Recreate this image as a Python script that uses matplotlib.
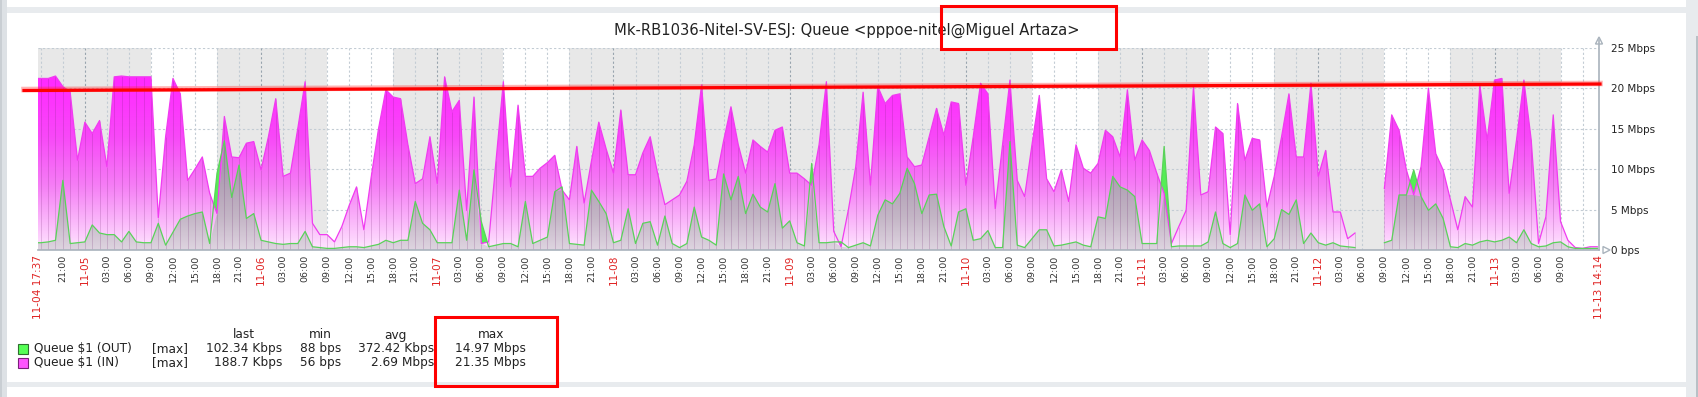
import numpy as np
import pandas as pd
import matplotlib.pyplot as plt
from matplotlib.path import Path
from matplotlib.patches import Rectangle, Polygon

W, H = 1699, 397

# hourly values in Mbps, one list per day (11-04 starts at 17:00, 11-13 ends at 14:00)
in_1104 = [21.2, 21.2, 21.2, 21.5, 20.2, 19.5, 11.1]
in_1105 = [15.8, 14.4, 16.0, 10.3, 21.4, 21.5, 21.4, 21.4, 21.4, 21.4, 4.0, 14.0,
           21.2, 19.3, 8.6, 10.0, 11.5, 7.0, 4.5, 16.5, 11.5, 11.4, 13.2, 13.4]
in_1106 = [9.9, 14.0, 18.7, 9.1, 9.5, 15.0, 20.8, 3.3, 1.9, 1.9, 1.0, 2.9,
           5.5, 7.8, 2.5, 9.0, 15.0, 19.8, 18.9, 18.7, 13.0, 8.2, 8.8, 14.0]
in_1107 = [8.2, 21.4, 17.1, 18.5, 4.9, 18.9, 0.8, 1.0, 11.0, 20.8, 7.8, 17.9,
           9.1, 9.1, 10.1, 10.8, 11.7, 7.4, 6.2, 12.8, 5.8, 11.0, 15.8, 12.5]
in_1108 = [9.5, 17.3, 9.3, 9.3, 12.0, 14.0, 9.5, 5.6, 6.2, 6.8, 8.5, 13.0,
           20.4, 8.6, 8.8, 13.5, 17.7, 13.0, 9.5, 13.6, 12.8, 12.1, 14.8, 15.2]
in_1109 = [9.5, 9.5, 8.8, 8.0, 13.0, 20.8, 2.3, 0.4, 5.0, 10.3, 19.5, 8.0,
           20.2, 18.1, 19.1, 19.3, 11.5, 10.3, 10.5, 14.0, 17.5, 14.2, 18.3, 18.1]
in_1110 = [8.0, 14.0, 20.6, 19.3, 5.1, 13.0, 21.0, 8.6, 6.6, 13.0, 19.1, 8.8,
           7.2, 9.9, 6.0, 13.0, 10.1, 9.5, 10.7, 14.8, 14.0, 11.5, 19.8, 11.1]
in_1111 = [13.6, 12.3, 9.5, 7.0, 0.8, 2.9, 4.9, 20.2, 6.8, 7.2, 15.2, 14.4,
           1.9, 18.1, 11.1, 13.8, 13.6, 5.3, 9.1, 14.0, 19.3, 11.5, 11.5, 20.6]
in_1112 = [9.1, 12.3, 4.7, 4.7, 1.4, 2.1, np.nan, np.nan, np.nan, 7.6, 16.7, 14.8,
           9.9, 6.8, 10.3, 20.0, 11.9, 9.9, 6.2, 2.5, 6.6, 5.3, 20.4, 13.6]
in_1113 = [21.0, 21.2, 7.0, 13.6, 21.0, 13.6, 0.8, 4.1, 16.7, 3.5, 1.2, 0.3, 0.2, 0.4, 0.4]

out_1104 = [0.9, 0.9, 1.0, 1.2, 8.6, 0.8, 0.9]
out_1105 = [1.0, 3.1, 2.1, 1.9, 1.9, 1.0, 2.3, 1.0, 0.9, 0.9, 3.3, 0.6,
            2.2, 3.8, 4.2, 4.5, 4.7, 0.8, 9.5, 13.5, 6.5, 10.5, 3.9, 4.5]
out_1106 = [1.2, 1.0, 0.8, 0.7, 0.8, 0.8, 2.3, 0.4, 0.3, 0.2, 0.2, 0.3,
            0.4, 0.4, 0.3, 0.5, 0.7, 1.2, 0.9, 1.2, 1.2, 6.0, 3.3, 2.5]
out_1107 = [0.9, 0.9, 0.9, 7.4, 1.2, 9.9, 3.5, 0.4, 0.6, 0.8, 0.8, 0.4,
            6.0, 0.8, 1.2, 1.6, 7.2, 7.8, 0.8, 0.7, 0.6, 7.4, 6.0, 4.5]
out_1108 = [0.9, 1.2, 5.1, 0.8, 3.3, 3.5, 0.6, 4.2, 0.8, 0.3, 0.8, 5.3,
            1.6, 1.2, 0.6, 9.4, 6.2, 9.1, 4.5, 6.9, 5.3, 4.7, 8.2, 2.7]
out_1109 = [3.6, 0.9, 0.5, 10.7, 0.9, 0.9, 1.0, 1.0, 0.3, 0.6, 0.9, 0.5,
            4.3, 6.2, 5.7, 7.0, 10.1, 8.2, 4.5, 6.8, 6.9, 2.9, 0.5, 4.7]
out_1110 = [5.1, 1.2, 1.4, 2.4, 0.3, 0.3, 13.4, 0.6, 0.3, 1.4, 2.5, 2.5,
            0.5, 0.6, 0.8, 1.0, 0.6, 0.4, 4.1, 3.9, 9.1, 7.8, 7.4, 6.6]
out_1111 = [0.8, 0.8, 0.8, 12.8, 0.4, 0.5, 0.5, 0.5, 0.5, 1.0, 4.7, 0.8,
            0.3, 0.8, 6.8, 4.9, 5.7, 0.4, 1.4, 5.0, 4.4, 6.2, 0.8, 2.1]
out_1112 = [0.9, 0.6, 0.9, 0.5, 0.4, 0.3, np.nan, np.nan, np.nan, 0.9, 1.2, 6.8,
            6.8, 9.9, 6.6, 4.9, 5.7, 3.9, 0.4, 0.3, 0.8, 0.6, 1.0, 1.2]
out_1113 = [1.0, 1.2, 1.6, 0.9, 2.5, 0.8, 0.4, 0.5, 0.9, 1.0, 0.4, 0.2, 0.2, 0.2, 0.2]

workdays = ['11-05', '11-06', '11-07', '11-10', '11-11', '11-12', '11-13']
y_ticks = [0, 5, 10, 15, 20, 25]
y_labels = ['0 bps', '5 Mbps', '10 Mbps', '15 Mbps', '20 Mbps', '25 Mbps']

title = 'Mk-RB1036-Nitel-SV-ESJ: Queue <pppoe-nitel@Miguel Artaza>'
leg_names = ['Queue $1 (OUT)', 'Queue $1 (IN)']
leg_colors = ['#55ff55', '#ff55ff']
leg_edges = ['#2f6f2f', '#7a1f7a']
leg_last = ['102.34 Kbps', '188.7 Kbps']
leg_min = ['88 bps', '56 bps']
leg_avg = ['372.42 Kbps', '2.69 Mbps']
leg_max = ['14.97 Mbps', '21.35 Mbps']

t0 = pd.Timestamp('2000-11-05 00:00')
t_start = pd.Timestamp('2000-11-04 17:37')
t_end = pd.Timestamp('2000-11-13 14:14')

vin = np.array(in_1104 + in_1105 + in_1106 + in_1107 + in_1108 + in_1109 +
               in_1110 + in_1111 + in_1112 + in_1113)
vout = np.array(out_1104 + out_1105 + out_1106 + out_1107 + out_1108 + out_1109 +
                out_1110 + out_1111 + out_1112 + out_1113)
stamps = pd.date_range('2000-11-04 17:00', periods=len(vin), freq='h')
hrs = ((stamps - t0) / pd.Timedelta(hours=1)).values
x0 = (t_start - t0) / pd.Timedelta(hours=1)
x1 = (t_end - t0) / pd.Timedelta(hours=1)


def fx(x):
    return x / W


def fy(y):
    return 1 - y / H


fig = plt.figure(figsize=(W / 100, H / 100), dpi=100)
fig.patch.set_facecolor('white')
ax = fig.add_axes([fx(38), fy(250), (1599 - 38) / W, (250 - 47.7) / H])
ax.set_facecolor('white')

# non working time in grey
ax.axvspan(x0, x1, color='#e8e8e8', lw=0, zorder=0)
for d in workdays:
    dh = (pd.Timestamp('2000-' + d) - t0) / pd.Timedelta(hours=1)
    ax.axvspan(max(dh + 9, x0), min(dh + 18, x1), color='white', lw=0, zorder=0.1)

# grid
for v in y_ticks[1:]:
    ax.plot([x0, x1], [v, v], color='#c3ccd4', lw=0.8, ls=(0, (2, 2)), zorder=1)
grid_t = pd.date_range('2000-11-04 18:00', '2000-11-13 12:00', freq='3h')
for t in grid_t:
    h = (t - t0) / pd.Timedelta(hours=1)
    c = '#98a4ae' if t.hour == 0 else '#c3ccd4'
    ax.plot([h, h], [0, 25], color=c, lw=0.8, ls=(0, (2, 2)), zorder=1)


def gradient(stops_v, stops_rgb, coll, z):
    v = np.linspace(0, 25, 256)
    rgb = np.stack([np.interp(v, stops_v, [c[i] for c in stops_rgb]) for i in range(3)], axis=-1) / 255
    im = ax.imshow(rgb[:, None, :], extent=[x0 - 2, x1 + 2, 0, 25], origin='lower',
                   aspect='auto', interpolation='bilinear', zorder=z)
    im.set_clip_path(Path.make_compound_path(*coll.get_paths()), transform=ax.transData)
    coll.set_visible(False)


m_in = np.ma.masked_invalid(vin)
m_out = np.ma.masked_invalid(vout)
m_low = np.ma.masked_invalid(np.minimum(vin, vout))

c_in = ax.fill_between(hrs, 0, m_in, lw=0)
gradient([0, 3, 8, 14, 20, 25],
         [(255, 230, 255), (251, 190, 251), (245, 125, 245), (248, 72, 248), (255, 45, 255), (255, 35, 255)],
         c_in, 2)
c_low = ax.fill_between(hrs, 0, m_low, lw=0)
gradient([0, 4, 10, 16, 25],
         [(222, 212, 224), (196, 182, 198), (170, 153, 175), (156, 138, 160), (148, 128, 152)],
         c_low, 3)
ax.fill_between(hrs, m_in, m_out, where=(vout > vin), interpolate=True,
                color='#55ee55', lw=0, zorder=3.5)

# darker column marks at each sample
ax.vlines(hrs, 0, m_in, colors='#6a206a', lw=0.6, alpha=0.22, zorder=4)

ax.plot(hrs, m_in, color='#f03cf0', lw=0.9, zorder=5)
ax.plot(hrs, m_out, color='#5ad25a', lw=0.9, zorder=6)

# axes lines
ax.plot([x0, x1], [0, 0], color='#a9b3bc', lw=1.2, zorder=7, clip_on=False)
ax.plot([x1, x1], [0, 25.9], color='#a9b3bc', lw=1.2, zorder=7, clip_on=False)

ax.set_xlim(x0, x1)
ax.set_ylim(0, 25)
for s in ax.spines.values():
    s.set_visible(False)

# x labels
lab_t = pd.date_range('2000-11-04 21:00', '2000-11-13 09:00', freq='3h')
ticks = [x0] + [(t - t0) / pd.Timedelta(hours=1) for t in lab_t] + [x1]
labels = [t_start.strftime('%m-%d %H:%M')] + \
         [t.strftime('%m-%d') if t.hour == 0 else t.strftime('%H:%M') for t in lab_t] + \
         [t_end.strftime('%m-%d %H:%M')]
ax.set_xticks(ticks)
ax.set_xticklabels(labels, rotation=90, fontsize=6.8)
for i, tl in enumerate(ax.get_xticklabels()):
    red = i == 0 or i == len(ticks) - 1 or lab_t[i - 1].hour == 0
    tl.set_color('#e02424' if red else '#333333')
    if red:
        tl.set_fontsize(7.6)
ax.tick_params(axis='x', length=0, pad=3.5)

ax.yaxis.tick_right()
ax.set_yticks(y_ticks)
ax.set_yticklabels(y_labels, fontsize=7.5, color='#222222')
ax.tick_params(axis='y', length=0, pad=9)

# axis arrows
fig.patches.append(Polygon([(fx(1595.5), fy(44)), (fx(1602.5), fy(44)), (fx(1599), fy(37))],
                           closed=True, fill=False, ec='#a9b3bc', lw=1, transform=fig.transFigure))
fig.patches.append(Polygon([(fx(1603), fy(246.5)), (fx(1603), fy(253.5)), (fx(1610), fy(250))],
                           closed=True, fill=False, ec='#a9b3bc', lw=1, transform=fig.transFigure))

fig.text(fx(847), fy(30), title, fontsize=10.6, color='#222222', ha='center', va='center')

# legend
fs = 8.7
hy = 335
fig.text(fx(244), fy(hy), 'last', fontsize=fs, color='#222222', ha='center', va='center')
fig.text(fx(320), fy(hy), 'min', fontsize=fs, color='#222222', ha='center', va='center')
fig.text(fx(395), fy(hy), 'avg', fontsize=fs, color='#222222', ha='center', va='center')
fig.text(fx(491), fy(hy), 'max', fontsize=fs, color='#222222', ha='center', va='center')
for i in range(2):
    ry = 348.5 + 14 * i
    fig.patches.append(Rectangle((fx(18.5), fy(ry + 5)), 10 / W, 10 / H, transform=fig.transFigure,
                                 fc=leg_colors[i], ec=leg_edges[i], lw=0.8))
    fig.text(fx(34), fy(ry), leg_names[i], fontsize=fs, color='#222222', ha='left', va='center')
    fig.text(fx(152), fy(ry), '[max]', fontsize=fs, color='#222222', ha='left', va='center')
    fig.text(fx(282), fy(ry), leg_last[i], fontsize=fs, color='#222222', ha='right', va='center')
    fig.text(fx(341), fy(ry), leg_min[i], fontsize=fs, color='#222222', ha='right', va='center')
    fig.text(fx(434), fy(ry), leg_avg[i], fontsize=fs, color='#222222', ha='right', va='center')
    fig.text(fx(526), fy(ry), leg_max[i], fontsize=fs, color='#222222', ha='right', va='center')

# page frame
frame = '#e8ebee'
fig.patches.append(Rectangle((0, fy(13)), 1, 6 / H, transform=fig.transFigure, fc=frame, ec='none'))
fig.patches.append(Rectangle((0, fy(387)), 1, 5 / H, transform=fig.transFigure, fc=frame, ec='none'))
fig.patches.append(Rectangle((0, 0), fx(7), 1, transform=fig.transFigure, fc='#dde1e5', ec='none'))
fig.patches.append(Rectangle((0, 0), fx(2), 1, transform=fig.transFigure, fc='#c9ced3', ec='none'))
fig.patches.append(Rectangle((fx(1686), 0), 13 / W, 1, transform=fig.transFigure, fc=frame, ec='none'))
fig.patches.append(Rectangle((fx(1696), 0), 2 / W, fy(36), transform=fig.transFigure, fc='#b9c0c6', ec='none'))

# red marks drawn over the screenshot
fig.lines.append(plt.Line2D([fx(24), fx(1600)], [fy(89.5), fy(83.5)], color='#ff2a2a', lw=4, alpha=0.35,
                            transform=fig.transFigure, zorder=20))
fig.lines.append(plt.Line2D([fx(24), fx(1600)], [fy(90.5), fy(84)], color='#ff0000', lw=2.3,
                            transform=fig.transFigure, zorder=21))
fig.patches.append(Rectangle((fx(941), fy(49)), (1116 - 941) / W, 43 / H, transform=fig.transFigure,
                             fill=False, ec='#ff0000', lw=2.2, zorder=21))
fig.patches.append(Rectangle((fx(435), fy(386)), (557 - 435) / W, 69 / H, transform=fig.transFigure,
                             fill=False, ec='#ff0000', lw=2.2, zorder=21))

fig.savefig('out.png', dpi=100)
